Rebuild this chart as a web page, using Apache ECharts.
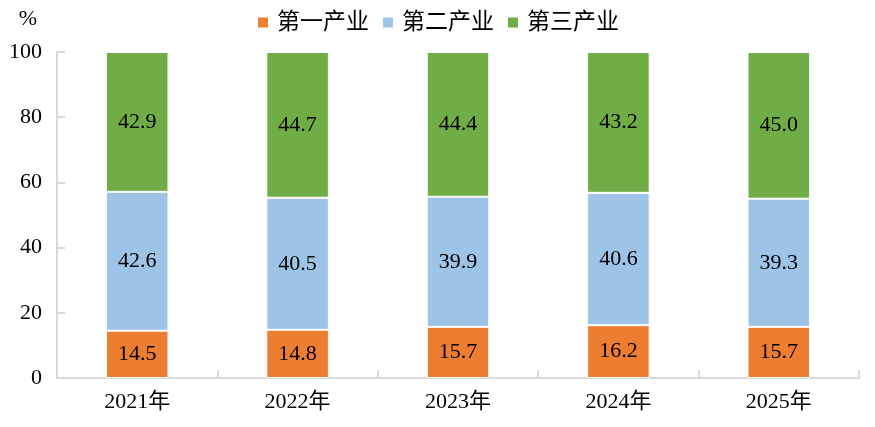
<!DOCTYPE html>
<html>
<head>
<meta charset="utf-8">
<script src="https://cdn.jsdelivr.net/npm/echarts@6/dist/echarts.min.js"></script>
<style>
  html, body { margin: 0; padding: 0; background: #fff; }
  #main { width: 875px; height: 427px; }
</style>
</head>
<body>
<div id="main"></div>
<script>
var years = ['2021年', '2022年', '2023年', '2024年', '2025年'];
var primary = [14.5, 14.8, 15.7, 16.2, 15.7];
var secondary = [42.6, 40.5, 39.9, 40.6, 39.3];
var tertiary = [42.9, 44.7, 44.4, 43.2, 45.0];
var yTicks = [0, 20, 40, 60, 80, 100];

var font = '"Liberation Serif", "Times New Roman", "Noto Sans CJK SC", serif';

function makeSeries(name, data, color) {
    return {
        name: name,
        type: 'bar',
        stack: 'total',
        barWidth: '39%',
        data: data,
        itemStyle: {
            color: color,
            borderColor: '#fff',
            borderWidth: 1
        },
        label: {
            show: true,
            position: 'inside',
            color: '#000',
            fontFamily: font,
            fontSize: 22,
            formatter: function (p) {
                return p.value.toFixed(1);
            }
        }
    };
}

var myChart = echarts.init(document.getElementById('main'));
var option = {
    animation: false,
    textStyle: { fontFamily: font },
    legend: {
        top: 6,
        left: 'center',
        itemWidth: 12,
        itemHeight: 12,
        itemGap: 12,
        icon: 'rect',
        textStyle: { fontSize: 23, color: '#000', fontFamily: font, padding: [0, 0, 0, 3] }
    },
    grid: { left: 57, right: 16, top: 52, bottom: 49, containLabel: false },
    xAxis: {
        type: 'category',
        data: years,
        axisLine: { lineStyle: { color: '#d9d9d9', width: 2 } },
        axisTick: { show: true, inside: true, length: 8, lineStyle: { color: '#d9d9d9', width: 2 } },
        axisLabel: { color: '#000', fontSize: 22, margin: 13, fontFamily: font }
    },
    yAxis: {
        type: 'value',
        min: yTicks[0],
        max: yTicks[yTicks.length - 1],
        interval: 20,
        name: '%',
        nameLocation: 'end',
        nameGap: 22,
        nameTextStyle: { color: '#000', fontSize: 22, fontFamily: font, align: 'right', padding: [0, 20, 0, 0] },
        splitLine: { show: false },
        axisLine: { show: true, lineStyle: { color: '#d9d9d9', width: 2 } },
        axisTick: { show: true, inside: true, length: 8, lineStyle: { color: '#d9d9d9', width: 2 } },
        axisLabel: { color: '#000', fontSize: 22, margin: 15, fontFamily: font }
    },
    series: [
        makeSeries('第一产业', primary, '#ED7D31'),
        makeSeries('第二产业', secondary, '#9DC3E6'),
        makeSeries('第三产业', tertiary, '#70AD47')
    ]
};
myChart.setOption(option);
</script>
</body>
</html>
